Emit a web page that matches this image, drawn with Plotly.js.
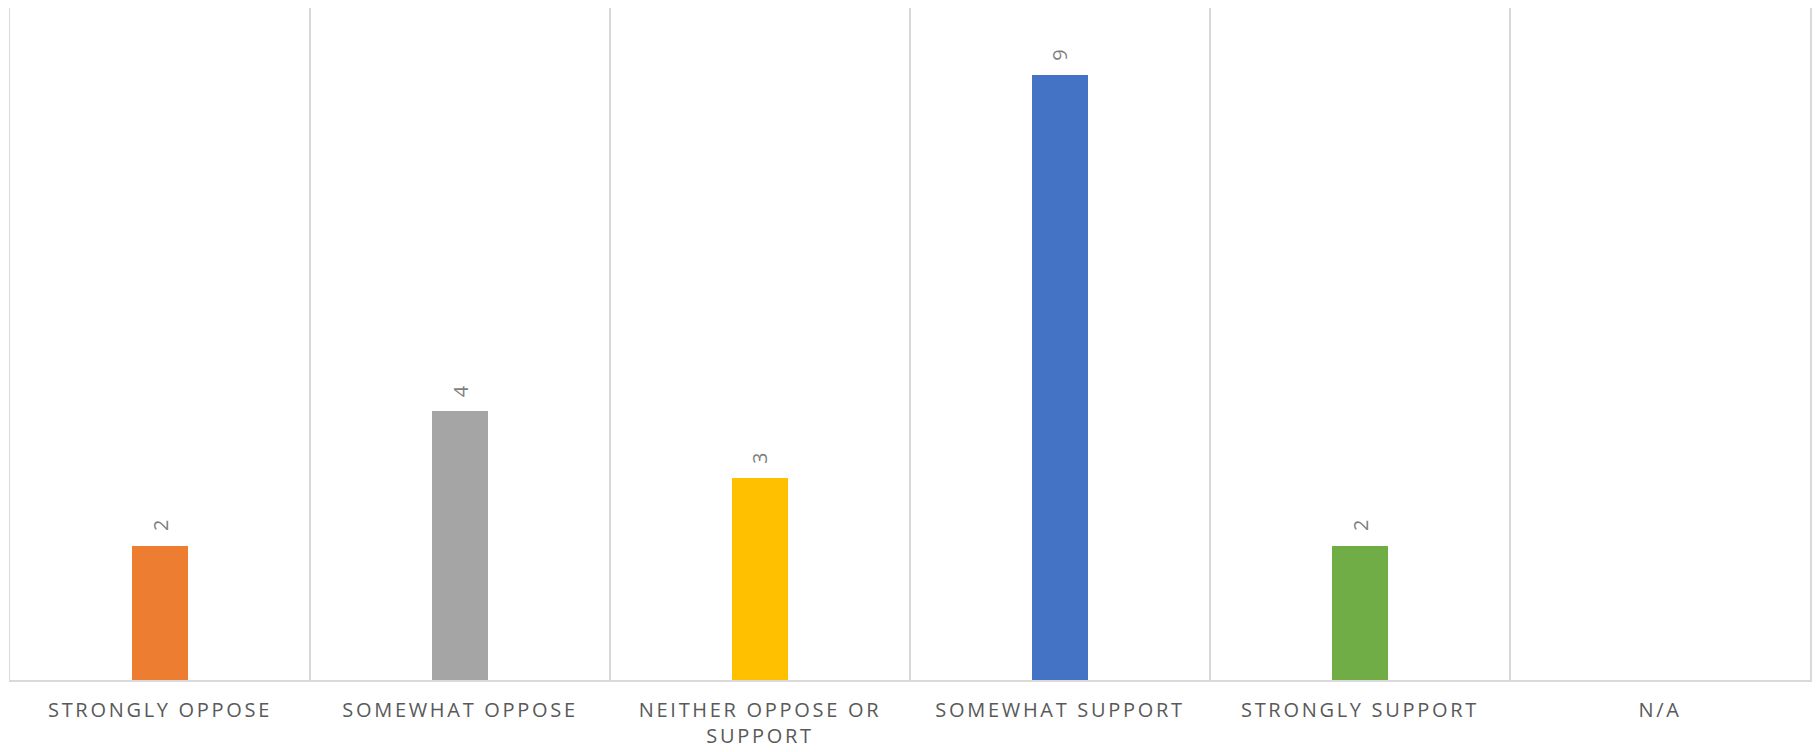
<!DOCTYPE html>
<html>
<head>
<meta charset="utf-8">
<script src="https://cdn.plot.ly/plotly-3.0.1.min.js"></script>
<style>
html,body{margin:0;padding:0;background:#fff;}
#chart{width:1818px;height:752px;}
.xtick text{letter-spacing:2.7px;}
</style>
</head>
<body>
<div id="chart"></div>
<script>
var categories = ["STRONGLY OPPOSE", "SOMEWHAT OPPOSE", "NEITHER OPPOSE OR<br>SUPPORT", "SOMEWHAT SUPPORT", "STRONGLY SUPPORT", "N/A"];
var counts = [2, 4, 3, 9, 2, 0];
var barColors = ["#ED7D31", "#A5A5A5", "#FFC000", "#4472C4", "#70AD47", "#5B9BD5"];

var labelColor = "#595959";
var fontFamily = "'Open Sans', 'Noto Sans', sans-serif";

var trace = {
  type: "bar",
  x: categories,
  y: counts,
  width: 0.187,
  marker: {color: barColors, line: {width: 0}},
  hoverinfo: "x+y"
};

var annotations = [];
for (var i = 0; i < categories.length; i++) {
  if (counts[i] > 0) {
    annotations.push({
      x: categories[i],
      y: counts[i],
      xref: "x",
      yref: "y",
      text: String(counts[i]),
      textangle: -90,
      showarrow: false,
      yanchor: "bottom",
      xanchor: "center",
      yshift: 12,
      font: {family: fontFamily, size: 20, color: "#7f7f7f"}
    });
  }
}

var layout = {
  width: 1818,
  height: 752,
  margin: {l: 10, r: 8, t: 8, b: 72},
  paper_bgcolor: "#ffffff",
  plot_bgcolor: "#ffffff",
  showlegend: false,
  bargap: 0,
  xaxis: {
    type: "category",
    range: [-0.5, 5.5],
    tickson: "boundaries",
    showgrid: true,
    gridcolor: "#d9d9d9",
    gridwidth: 1.5,
    ticks: "",
    ticklabelstandoff: 11,
    showline: true,
    linecolor: "#d9d9d9",
    linewidth: 2,
    tickfont: {family: fontFamily, size: 20, color: labelColor},
    fixedrange: true,
    zeroline: false
  },
  yaxis: {
    range: [0, 10],
    showgrid: false,
    zeroline: false,
    showticklabels: false,
    ticks: "",
    showline: true,
    mirror: true,
    linecolor: "#d9d9d9",
    linewidth: 1.5,
    fixedrange: true
  },
  annotations: annotations
};

Plotly.newPlot("chart", [trace], layout, {displayModeBar: false, staticPlot: true});
</script>
</body>
</html>
